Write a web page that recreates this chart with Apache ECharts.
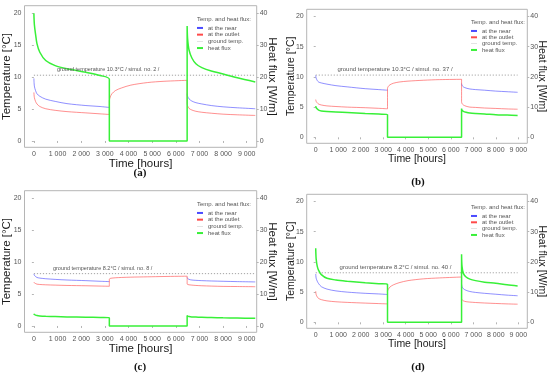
<!DOCTYPE html>
<html><head><meta charset="utf-8">
<script src="https://cdn.jsdelivr.net/npm/echarts@6/dist/echarts.min.js"></script>
<style>html,body{margin:0;padding:0;background:#fff}#c{width:550px;height:375px}</style>
</head><body><div id="c"></div><script>
// ---- data ----
const tOn1 = [0, 20, 70, 130, 250, 500, 900, 1400, 2200, 2800, 3190];
const tOff = [3190, 3230, 3300, 3450, 3700, 4100, 4800, 5500, 6480];
const tOn2Long = [6480, 6500, 6560, 6680, 6850, 7100, 7500, 8000, 8600, 9360];
const tOn2Short = [6480, 6500, 6560, 6680, 6850, 7100, 7500, 8000, 8500, 8970];
const xTicks = [0, 1000, 2000, 3000, 4000, 5000, 6000, 7000, 8000, 9000];
const tempTicks = [0, 5, 10, 15, 20];
const fluxTicks = [0, 10, 20, 30, 40];
const legendNames = ['at the near', 'at the outlet', 'ground temp.', 'heat flux'];
const subLabels = ['(a)', '(b)', '(c)', '(d)'];
const groundTemps = [10.3, 10.3, 8.2, 8.2];
const simulNos = [2, 37, 8, 40];

// panel a
const nearA1 = [9.8, 8.6, 7.9, 7.4, 7.0, 6.55, 6.2, 5.85, 5.55, 5.4, 5.25];
const outA1 = [7.6, 6.8, 6.2, 5.8, 5.4, 5.05, 4.8, 4.6, 4.4, 4.25, 4.15];
const fluxA1 = [40, 36.5, 33.5, 30.5, 27.8, 25.2, 23.6, 22.6, 21.5, 20.5, 19.3];
const outOffA = [6.3, 6.9, 7.4, 7.9, 8.3, 8.75, 9.15, 9.35, 9.5];
const nearA2 = [7.4, 7.0, 6.6, 6.25, 6.0, 5.8, 5.55, 5.35, 5.2, 5.05];
const outA2 = [5.9, 5.5, 5.1, 4.85, 4.65, 4.5, 4.35, 4.2, 4.1, 4.0];
const fluxA2 = [36, 32, 28.5, 26, 24.2, 23, 21.9, 21, 19.8, 18.5];
// panel b
const nearB1 = [10.25, 9.8, 9.4, 9.15, 9.0, 8.8, 8.55, 8.35, 8.05, 7.9, 7.8];
const outB1 = [6.25, 5.95, 5.7, 5.5, 5.35, 5.2, 5.1, 5.0, 4.9, 4.8, 4.72];
const fluxB1 = [10.3, 9.8, 9.35, 9.0, 8.75, 8.55, 8.35, 8.2, 7.9, 7.7, 7.55];
const outOffB = [8.1, 8.45, 8.7, 8.95, 9.15, 9.3, 9.45, 9.55, 9.6];
const nearB2 = [8.9, 8.6, 8.35, 8.15, 8.0, 7.9, 7.8, 7.65, 7.55, 7.45];
const outB2 = [5.9, 5.6, 5.35, 5.15, 5.0, 4.95, 4.85, 4.78, 4.7, 4.65];
const fluxB2 = [9.5, 9.0, 8.6, 8.3, 8.05, 7.9, 7.75, 7.5, 7.35, 7.2];
// panel c
const nearC1 = [8.15, 7.95, 7.75, 7.6, 7.5, 7.4, 7.3, 7.2, 7.1, 7.0, 6.95];
const outC1 = [6.85, 6.75, 6.65, 6.55, 6.5, 6.45, 6.4, 6.35, 6.3, 6.25, 6.22];
const fluxC1 = [3.85, 3.6, 3.4, 3.25, 3.15, 3.05, 2.95, 2.85, 2.75, 2.65, 2.6];
const outOffC = [7.35, 7.45, 7.5, 7.55, 7.6, 7.65, 7.7, 7.75, 7.8];
const nearC2 = [7.6, 7.45, 7.3, 7.2, 7.15, 7.1, 7.05, 7.0, 6.95, 6.9];
const outC2 = [6.6, 6.5, 6.45, 6.4, 6.35, 6.3, 6.25, 6.2, 6.18, 6.15];
const fluxC2 = [3.3, 3.1, 2.95, 2.85, 2.8, 2.7, 2.65, 2.55, 2.5, 2.4];
// panel d
const nearD1 = [8.0, 7.3, 6.8, 6.4, 5.9, 5.5, 5.2, 5.0, 4.8, 4.7, 4.6];
const outD1 = [5.15, 4.6, 4.2, 3.95, 3.75, 3.55, 3.4, 3.3, 3.18, 3.1, 3.05];
const fluxD1 = [24.5, 21, 18.5, 17.2, 15.8, 14.6, 14.0, 13.6, 13.1, 12.8, 12.6];
const outOffD = [5.15, 5.5, 5.85, 6.2, 6.55, 6.9, 7.2, 7.35, 7.5];
const nearD2 = [6.3, 5.9, 5.55, 5.3, 5.1, 4.95, 4.8, 4.65, 4.5, 4.4];
const outD2 = [3.95, 3.75, 3.55, 3.42, 3.35, 3.28, 3.2, 3.12, 3.05, 3.0];
const fluxD2 = [22.5, 18.5, 16.2, 15.0, 14.3, 13.8, 13.3, 12.9, 12.4, 12.05];

const panelData = [
  {near1: nearA1, out1: outA1, flux1: fluxA1, outOff: outOffA, near2: nearA2, out2: outA2, flux2: fluxA2, t2: tOn2Long},
  {near1: nearB1, out1: outB1, flux1: fluxB1, outOff: outOffB, near2: nearB2, out2: outB2, flux2: fluxB2, t2: tOn2Short},
  {near1: nearC1, out1: outC1, flux1: fluxC1, outOff: outOffC, near2: nearC2, out2: outC2, flux2: fluxC2, t2: tOn2Long},
  {near1: nearD1, out1: outD1, flux1: fluxD1, outOff: outOffD, near2: nearD2, out2: outD2, flux2: fluxD2, t2: tOn2Short}
];

// ---- layout (positions / styles) ----
const big = {grid: {left: 24.3, width: 232.4, height: 141.6}, xMin: -397, xMax: 9421, nameFont: 11.5, nameGapL: 11.5, nameGapR: 9.5, xNameGap: 11,
  legLeft: 197, titleDy: 20, legTop: 24.6, legLH: 6.7, gFont: 5.5, topRef: 5.7};
const small = {grid: {left: 306.7, width: 220.6, height: 134}, xMin: -400, xMax: 9400, nameFont: 10.5, nameGapL: 10.5, nameGapR: 9.2, xNameGap: 10.7,
  legLeft: 471, titleDy: 23.3, legTop: 27.8, legLH: 6.33, gFont: 6, topRef: 9.3};
const layouts = [
  Object.assign({}, big, {top: 5.7, labelT: 3140, sub: [140, 173.3]}),
  Object.assign({}, small, {top: 9.3, labelT: 3523, sub: [418, 181.7]}),
  Object.assign({}, big, {top: 190.7, labelT: 2907, sub: [140, 367.5]}),
  Object.assign({}, small, {top: 194.3, labelT: 3545, sub: [418, 366.7]})
];

const colNear = 'rgba(70,70,255,0.6)';
const colOut = 'rgba(255,70,70,0.6)';
const colFlux = '#38f038';
const colGround = '#9a9a9a';
const axisCol = '#b5b5b5';
const tickTxt = '#555';
const FONT = '"Liberation Sans", Arial, sans-serif';

const grids = [], xAxes = [], yAxes = [], series = [], legends = [], graphics = [];
const xFmt = v => v === 0 ? '0' : (v / 1000) + ' 000';

layouts.forEach((L, i) => {
  const d = panelData[i];
  grids.push({left: L.grid.left, top: L.top, width: L.grid.width, height: L.grid.height, show: true, borderColor: axisCol, borderWidth: 1, containLabel: false});
  xAxes.push({gridIndex: i, type: 'value', min: L.xMin, max: L.xMax,
    axisLine: {show: false}, splitLine: {show: false},
    axisTick: {show: true, length: 2, customValues: xTicks, lineStyle: {color: axisCol}},
    axisLabel: {customValues: xTicks, formatter: xFmt, fontSize: 7, color: tickTxt, margin: 3, fontFamily: FONT},
    name: 'Time [hours]', nameLocation: 'middle', nameGap: L.xNameGap, nameMoveOverlap: false,
    nameTextStyle: {fontSize: L.nameFont, color: '#1a1a1a', fontFamily: FONT}});
  yAxes.push({gridIndex: i, type: 'value', min: -0.99, max: 21.19, position: 'left',
    axisLine: {show: false}, splitLine: {show: false},
    axisTick: {show: true, length: 2, customValues: tempTicks, lineStyle: {color: axisCol}},
    axisLabel: {customValues: tempTicks, fontSize: 7, color: tickTxt, margin: 3, fontFamily: FONT},
    name: 'Temperature [°C]', nameLocation: 'middle', nameGap: L.nameGapL, nameMoveOverlap: false,
    nameTextStyle: {fontSize: L.nameFont, color: '#1a1a1a', fontFamily: FONT}});
  yAxes.push({gridIndex: i, type: 'value', min: -1.98, max: 42.38, position: 'right',
    axisLine: {show: false}, splitLine: {show: false},
    axisTick: {show: true, length: 2, customValues: fluxTicks, lineStyle: {color: axisCol}},
    axisLabel: {customValues: fluxTicks, fontSize: 7, color: tickTxt, margin: 3, fontFamily: FONT},
    name: 'Heat flux [W/m]', nameLocation: 'middle', nameGap: L.nameGapR, nameRotate: -90, nameMoveOverlap: false,
    nameTextStyle: {fontSize: L.nameFont, color: '#1a1a1a', fontFamily: FONT}});

  const tEnd = d.t2[d.t2.length - 1];
  const g = groundTemps[i];
  const nearData = tOn1.map((t, k) => [t, d.near1[k]]).concat([[tOff[4], null]], d.t2.map((t, k) => [t, d.near2[k]]));
  const outData = tOn1.map((t, k) => [t, d.out1[k]]).concat(tOff.map((t, k) => [t, d.outOff[k]]), d.t2.map((t, k) => [t, d.out2[k]]));
  const fluxData = tOn1.map((t, k) => [t, d.flux1[k]]).concat([[tOff[0], 0], [tOff[tOff.length - 1], 0]], d.t2.map((t, k) => [t, d.flux2[k]]));
  const base = {type: 'line', xAxisIndex: i, symbol: 'none', silent: true, animation: false};
  series.push(Object.assign({}, base, {name: 'ground temp.', yAxisIndex: 2 * i, data: [[0, g], [tEnd, g]],
    lineStyle: {color: colGround, width: 0.9, type: [1.2, 1.8]}, itemStyle: {color: colGround},
    markPoint: {symbol: 'circle', symbolSize: 1, itemStyle: {color: 'rgba(0,0,0,0)'}, silent: true,
      data: [{coord: [L.labelT, g]}],
      label: {show: true, position: 'top', distance: 2, fontSize: L.gFont, color: '#555', fontFamily: FONT,
        formatter: 'ground temperature ' + g + '°C / simul. no. ' + simulNos[i] + ' /'}}}));
  series.push(Object.assign({}, base, {name: 'at the near', yAxisIndex: 2 * i, data: nearData, smooth: 0.3,
    lineStyle: {color: colNear, width: 1}, itemStyle: {color: '#4a4aff'}}));
  series.push(Object.assign({}, base, {name: 'at the outlet', yAxisIndex: 2 * i, data: outData, smooth: 0.3,
    lineStyle: {color: colOut, width: 1}, itemStyle: {color: '#ff4a4a'}}));
  series.push(Object.assign({}, base, {name: 'heat flux', yAxisIndex: 2 * i + 1, data: fluxData, smooth: 0.3,
    lineStyle: {color: colFlux, width: 1.5}, itemStyle: {color: colFlux}}));

  legends.push({orient: 'vertical', left: L.legLeft, top: L.top + L.legTop - L.topRef,
    padding: 0, itemGap: 0, itemWidth: 6, itemHeight: 2, icon: 'rect', selectedMode: false,
    textStyle: {fontSize: 6, lineHeight: L.legLH, color: '#555', fontFamily: FONT},
    data: [
      {name: 'at the near', itemStyle: {color: '#4a4aff'}},
      {name: 'at the outlet', itemStyle: {color: '#ff4a4a'}},
      {name: 'ground temp.', itemStyle: {color: '#8a8a8a'}, icon: 'path://M0,0.3H10V0.7H0Z'},
      {name: 'heat flux', itemStyle: {color: colFlux}}
    ]});
  graphics.push({type: 'text', left: L.legLeft, top: L.top + L.titleDy - L.topRef - 3.5,
    style: {text: 'Temp. and heat flux:', fontSize: 6, fill: '#555', fontFamily: FONT}});
  graphics.push({type: 'text', x: L.sub[0], y: L.sub[1],
    style: {text: subLabels[i], fontSize: 11, fontWeight: 'bold', fill: '#111', fontFamily: '"Liberation Serif", "Times New Roman", serif', align: 'center', verticalAlign: 'middle'}});
});

const chart = echarts.init(document.getElementById('c'), null, {renderer: 'canvas'});
chart.setOption({
  backgroundColor: '#fff', animation: false,
  grid: grids, xAxis: xAxes, yAxis: yAxes, series: series, legend: legends, graphic: graphics
});
</script></body></html>
